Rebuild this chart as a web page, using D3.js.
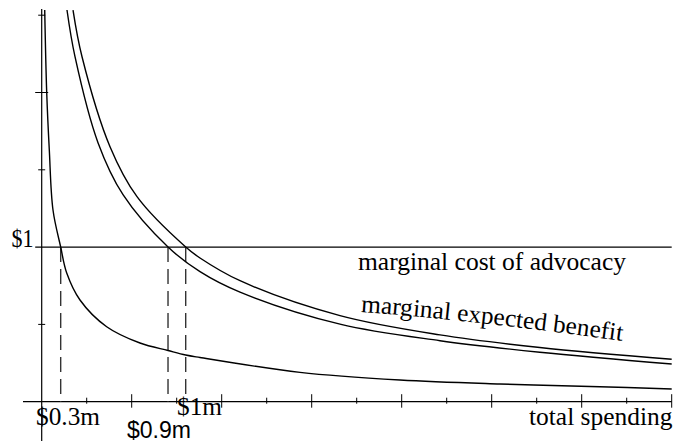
<!DOCTYPE html>
<html>
<head>
<meta charset="utf-8">
<script src="https://cdn.jsdelivr.net/npm/d3@7"></script>
<style>
  html, body { margin: 0; padding: 0; background: #fff; }
  svg { display: block; }
  .serif { font-family: "Liberation Serif", "Times New Roman", Times, serif; }
  .sans { font-family: "Liberation Sans", Arial, Helvetica, sans-serif; }
</style>
</head>
<body>
<svg id="chart" width="675" height="443"></svg>
<script>
// ---- data (x in axis tick units, y in axis tick units; $1 = 2 units) ----
const xTickValues = [0,1,2,3,4,5,6,7,8,9,10,11,12,13,14];
const yTickValues = [0,1,2,3,4,5];
const dollarOneLevel = 2;

const costCurveX  = [0.067, 0.111, 0.169, 0.251, 0.422, 0.556, 0.851, 1.444, 2.184, 2.807, 3.200, 3.518, 5.740, 7.962, 10.18, 12.40, 14.0];
const costCurveY  = [5.067, 4.006, 3.256, 2.480, 2.001, 1.665, 1.316, 0.970, 0.759, 0.662, 0.604, 0.572, 0.380, 0.281, 0.229, 0.194, 0.164];

const benefitLowX = [0.562, 0.740, 1.251, 1.807, 2.807, 3.518, 4.407, 6.629, 8.851, 11.07, 14.0];
const benefitLowY = [5.067, 4.463, 3.351, 2.678, 2.001, 1.682, 1.417, 1.003, 0.789, 0.640, 0.488];

const benefitHighX = [0.696, 0.896, 1.518, 2.118, 3.200, 3.518, 4.407, 6.629, 8.851, 11.07, 14.0];
const benefitHighY = [5.067, 4.463, 3.299, 2.652, 2.001, 1.859, 1.565, 1.113, 0.864, 0.701, 0.549];

const dropLineX = [0.422, 2.807, 3.2];
const dropLabels = ["$0.3m", "$0.9m", "$1m"];

// ---- drawing ----
const svg = d3.select("#chart");
const x = d3.scaleLinear().domain([0, 14]).range([41.7, 671.7]);
const y = d3.scaleLinear().domain([0, 5]).range([401.7, 15.2]);

const ink = "#000";

// axes lines
svg.append("line").attr("x1", x(0)).attr("x2", x(0)).attr("y1", 9).attr("y2", 441)
  .attr("stroke", ink).attr("stroke-width", 1.2);
svg.append("line").attr("x1", 23).attr("x2", x(14)).attr("y1", y(0)).attr("y2", y(0))
  .attr("stroke", ink).attr("stroke-width", 1.2);

// x ticks
svg.selectAll(".xt").data(xTickValues.filter(d => d > 0)).enter().append("line")
  .attr("x1", d => x(d)).attr("x2", d => x(d))
  .attr("y1", d => d % 2 === 0 ? y(0) - 7.5 : y(0) - 4)
  .attr("y2", d => d % 2 === 0 ? y(0) + 6 : y(0) + 2)
  .attr("stroke", ink).attr("stroke-width", 1);

// y ticks
svg.selectAll(".yt").data(yTickValues.filter(d => d > 0 && d !== dollarOneLevel)).enter().append("line")
  .attr("y1", d => y(d)).attr("y2", d => y(d))
  .attr("x1", d => d % 2 === 0 ? x(0) - 6.5 : x(0) - 3.5)
  .attr("x2", d => d % 2 === 0 ? x(0) + 6.5 : x(0) + 3.5)
  .attr("stroke", ink).attr("stroke-width", 1);

// $1 marginal cost line
svg.append("line").attr("x1", x(0) - 6.5).attr("x2", x(14))
  .attr("y1", y(dollarOneLevel)).attr("y2", y(dollarOneLevel))
  .attr("stroke", ink).attr("stroke-width", 1.2);

// dashed drop lines
svg.selectAll(".drop").data(dropLineX).enter().append("line")
  .attr("x1", d => x(d)).attr("x2", d => x(d))
  .attr("y1", y(dollarOneLevel)).attr("y2", y(0))
  .attr("stroke", "#333").attr("stroke-width", 1.4)
  .attr("stroke-dasharray", "15,7");

// curves
const line = d3.line().x(d => x(d[0])).y(d => y(d[1])).curve(d3.curveCatmullRom.alpha(0.5));
[[costCurveX, costCurveY], [benefitLowX, benefitLowY], [benefitHighX, benefitHighY]].forEach(([xs, ys]) => {
  svg.append("path").datum(xs.map((v, i) => [v, ys[i]]))
    .attr("d", line).attr("fill", "none").attr("stroke", ink).attr("stroke-width", 1.4);
});

// texts
function label(txt, x0, base, width, size, cls) {
  svg.append("text").attr("class", cls).attr("x", x0).attr("y", base)
    .attr("font-size", size).attr("fill", ink)
    .attr("textLength", width).attr("lengthAdjust", "spacingAndGlyphs")
    .text(txt);
}
label("$1", 11.5, 246.5, 22, 25, "serif");
label("marginal cost of advocacy", 358, 270, 268, 25, "serif");
label(dropLabels[0], 36, 425, 64, 25, "serif");
label(dropLabels[1], 127, 438, 64, 23, "sans");
label(dropLabels[2], 177, 415, 45, 25, "serif");
label("total spending", 529, 425, 143.5, 25, "serif");

// curved label along benefit curve
svg.append("defs").append("path").attr("id", "benefitPath")
  .attr("d", "M 361 312 Q 463 319 630 342");
svg.append("text").attr("class", "serif").attr("font-size", 25).attr("fill", ink)
  .append("textPath").attr("href", "#benefitPath")
  .attr("textLength", 263).attr("lengthAdjust", "spacingAndGlyphs")
  .text("marginal expected benefit");
</script>
</body>
</html>
